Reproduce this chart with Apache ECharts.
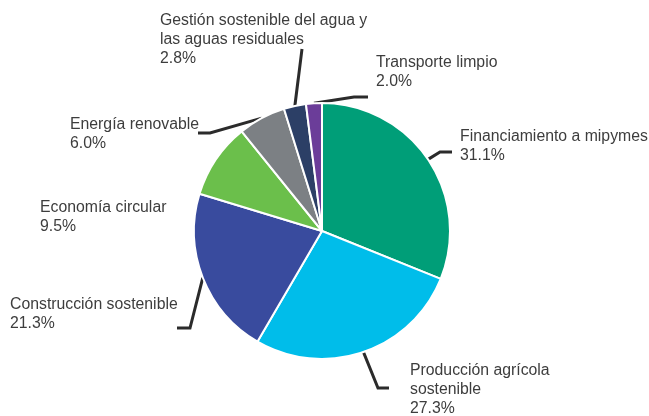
<!DOCTYPE html>
<html>
<head>
<meta charset="utf-8">
<script src="https://cdn.jsdelivr.net/npm/echarts@6/dist/echarts.min.js"></script>
<style>
  html, body { margin: 0; padding: 0; background: #fff; }
  #chart { width: 649px; height: 416px; }
</style>
</head>
<body>
<div id="chart"></div>
<script>
// Green finance portfolio split by category (percent)
const categories = [
  'Financiamiento a mipymes',
  'Producción agrícola\nsostenible',
  'Construcción sostenible',
  'Economía circular',
  'Energía renovable',
  'Gestión sostenible del agua y\nlas aguas residuales',
  'Transporte limpio'
];
const shares = [31.1, 27.3, 21.3, 9.5, 6.0, 2.8, 2.0];
const colors = ['#009E78', '#00BDEA', '#394B9E', '#6BBF4B', '#7C8084', '#2C3F66', '#6B3D99'];

// Label placement: text top-left corner, plus the guide line's elbow and end
const labelSpots = [
  { x: 460, y: 127, elbow: [440, 152], end: [452, 152] },
  { x: 410, y: 361, elbow: [378, 388], end: [389, 388] },
  { x: 10,  y: 295, elbow: [190, 328], end: [177, 328] },
  { x: 40,  y: 198, elbow: null },
  { x: 70,  y: 115, elbow: [210, 133], end: [198, 133] },
  { x: 160, y: 11,  elbow: [302, 49],  end: [302, 49] },
  { x: 376, y: 53,  elbow: [354, 97],  end: [368, 97] }
];

const chart = echarts.init(document.getElementById('chart'), null, { renderer: 'canvas' });

const data = categories.map((name, i) => ({
  name: name,
  value: shares[i],
  itemStyle: { color: colors[i] },
  labelLine: { show: labelSpots[i].elbow !== null }
}));

chart.setOption({
  animation: false,
  backgroundColor: '#ffffff',
  series: [{
    type: 'pie',
    center: [322, 231],
    radius: [0, 128],
    startAngle: 90,
    clockwise: true,
    avoidLabelOverlap: false,
    itemStyle: { borderColor: '#ffffff', borderWidth: 2 },
    label: {
      show: true,
      position: 'outside',
      formatter: p => p.name + '\n' + p.value.toFixed(1) + '%',
      fontFamily: 'Liberation Sans, Arial, sans-serif',
      fontSize: 15.8,
      lineHeight: 19,
      color: '#3d3d3d'
    },
    labelLine: {
      show: true,
      length: 10,
      length2: 10,
      lineStyle: { color: '#2b2b2b', width: 3 }
    },
    labelLayout: function (params) {
      const spot = labelSpots[params.dataIndex];
      const out = { x: spot.x, y: spot.y, align: 'left', verticalAlign: 'top' };
      if (spot.elbow && params.labelLinePoints) {
        const start = params.labelLinePoints[0];
        out.labelLinePoints = [start, spot.elbow, spot.end];
      }
      return out;
    },
    data: data
  }]
});
</script>
</body>
</html>
